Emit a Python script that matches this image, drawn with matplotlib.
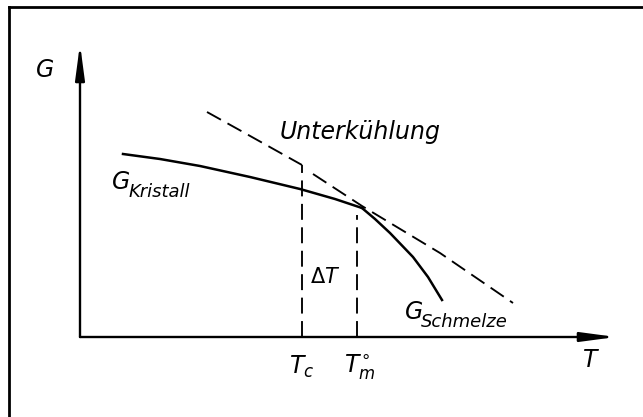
import matplotlib.pyplot as plt
from matplotlib.lines import Line2D

plt.rcParams['font.family'] = ['DejaVu Sans']
plt.rcParams['mathtext.fontset'] = 'custom'
plt.rcParams['mathtext.it'] = 'DejaVu Sans:italic'
plt.rcParams['mathtext.rm'] = 'DejaVu Sans'

# free enthalpy curves (schematic units)
t_kristall = [4.3, 8.0, 12.0, 17.0, 22.0, 25.5, 28.2]
g_kristall = [18.3, 17.8, 17.1, 16.0, 14.8, 13.8, 12.9]

t_schmelze = [28.2, 29.5, 31.0, 33.3, 34.8, 36.2]
g_schmelze = [12.9, 11.8, 10.4, 8.0, 6.0, 3.7]

# dashed extrapolation, broken at T_c
t_dash_a = [12.7, 16.3, 22.2]
g_dash_a = [22.5, 20.5, 17.2]
t_dash_b = [23.3, 28.2, 36.0, 43.3]
g_dash_b = [16.3, 13.1, 8.4, 3.4]

t_c = 22.2
t_m = 27.7
g_tc_top = 17.2
g_tm_top = 12.2

t_max = 53.6
g_max = 29.3

fig = plt.figure(figsize=(6.43, 4.17), dpi=100)
ax = fig.add_axes([0, 0, 1, 1])
ax.set_xlim(-8.0, 56.3)
ax.set_ylim(-8.0, 33.7)
ax.axis('off')

# outer frame (left and top edges only)
fx, fy = 8.5 / 643, 1 - 6.5 / 417
fig.add_artist(Line2D([fx, fx], [0, fy], color='black', lw=2.0))
fig.add_artist(Line2D([fx, 1], [fy, fy], color='black', lw=2.0))

# axes with arrows
arrow = dict(arrowstyle='-|>,head_length=2.1,head_width=0.28', color='black', lw=1.7,
             shrinkA=0, shrinkB=0)
ax.annotate('', xy=(t_max, 0), xytext=(0, 0), arrowprops=arrow)
ax.annotate('', xy=(0, g_max), xytext=(0, 0), arrowprops=arrow)

ax.plot(t_kristall, g_kristall, color='black', lw=1.8, solid_joinstyle='round')
ax.plot(t_schmelze, g_schmelze, color='black', lw=1.8, solid_joinstyle='round')

dash = dict(color='black', lw=1.35, dashes=(8.5, 4.0))
ax.plot(t_dash_a, g_dash_a, **dash)
ax.plot(t_dash_b, g_dash_b, **dash)
ax.plot([t_c, t_c], [0, g_tc_top], **dash)
ax.plot([t_m, t_m], [0, g_tm_top], **dash)

fs = 17
ax.text(-3.5, 26.7, 'G', fontsize=fs, style='italic', ha='center', va='center')
ax.text(51.0, -2.3, 'T', fontsize=fs, style='italic', ha='center', va='center')
ax.text(t_c, -3.0, r'$T_c$', fontsize=fs, ha='center', va='center')
ax.text(t_m + 0.3, -3.0, r'$T_m^{\circ}$', fontsize=fs, ha='center', va='center')
ax.text(24.5, 6.0, r'$\Delta T$', fontsize=fs - 2, ha='center', va='center')
ax.text(28.0, 20.5, 'Unterkühlung', fontsize=fs, style='italic', ha='center', va='center')

ax.text(3.2, 15.5, 'G', fontsize=fs, style='italic', ha='left', va='center')
ax.text(4.9, 14.5, 'Kristall', fontsize=fs - 4, style='italic', ha='left', va='center')
ax.text(32.5, 2.5, 'G', fontsize=fs, style='italic', ha='left', va='center')
ax.text(34.1, 1.5, 'Schmelze', fontsize=fs - 4, style='italic', ha='left', va='center')

fig.savefig('out.png', dpi=100)
